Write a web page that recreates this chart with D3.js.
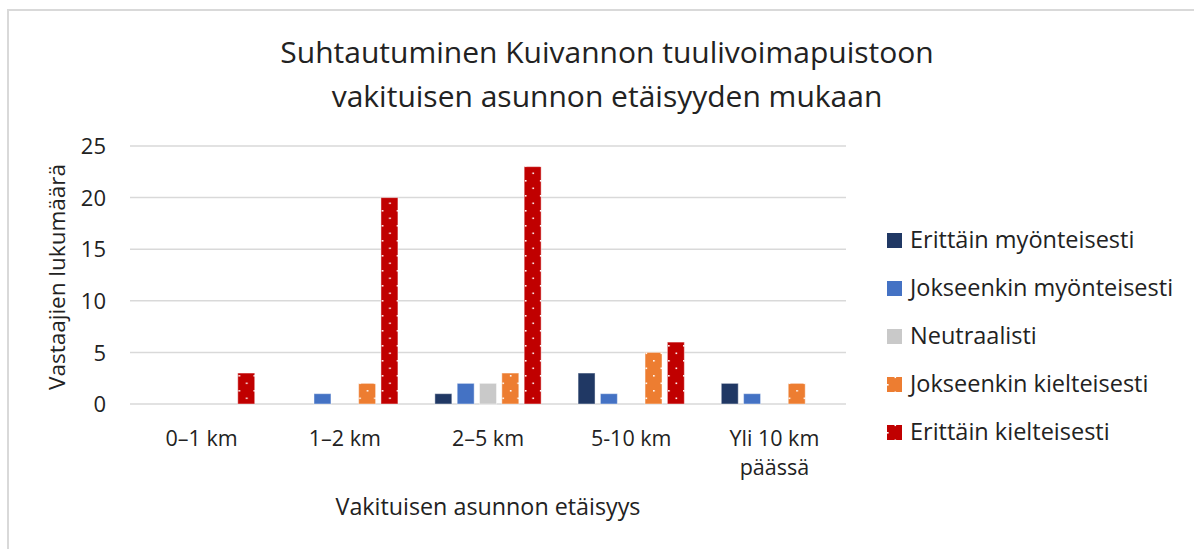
<!DOCTYPE html>
<html lang="fi">
<head>
<meta charset="UTF-8">
<title>Suhtautuminen Kuivannon tuulivoimapuistoon</title>
<script src="https://cdn.jsdelivr.net/npm/d3@7"></script>
<style>
    body { margin: 0; background: #fff; }
    svg text { font-family: "Open Sans", Lato, sans-serif; fill: #222; }
</style>
</head>
<body>
<div id="chart"></div>
<script>
const categories = ["0–1 km", "1–2 km", "2–5 km", "5-10 km", "Yli 10 km päässä"];
const series = ["Erittäin myönteisesti", "Jokseenkin myönteisesti", "Neutraalisti", "Jokseenkin kielteisesti", "Erittäin kielteisesti"];
const values = [
    [0, 0, 0, 0, 3],
    [0, 1, 0, 2, 20],
    [1, 2, 2, 3, 23],
    [3, 1, 0, 5, 6],
    [2, 1, 0, 2, 0]
];
const yTicks = [0, 5, 10, 15, 20, 25];
const colors = ["#203864", "#4472c4", "#c9c9c9", "#ed7d31", "#c00000"];
const dotted = [false, false, false, true, true];

const width = 1194, height = 549;
const plot = { left: 130, right: 846, top: 146, bottom: 404 };

const svg = d3.select("#chart").append("svg")
    .attr("width", width)
    .attr("height", height);

// patterns with white dots for the negative series
const defs = svg.append("defs");
series.forEach((s, i) => {
    if (!dotted[i]) return;
    const p = defs.append("pattern")
        .attr("id", "pat" + i)
        .attr("patternUnits", "userSpaceOnUse")
        .attr("width", 15).attr("height", 15);
    p.append("rect").attr("width", 15).attr("height", 15).attr("fill", colors[i]);
    p.append("rect").attr("x", 0).attr("y", 0).attr("width", 1.6).attr("height", 1.6).attr("fill", "#fff");
    p.append("rect").attr("x", 7.5).attr("y", 7.5).attr("width", 1.6).attr("height", 1.6).attr("fill", "#fff");
});
const fillOf = i => dotted[i] ? `url(#pat${i})` : colors[i];

// outer frame (only top and left visible)
svg.append("rect")
    .attr("x", 8).attr("y", 10)
    .attr("width", width).attr("height", height)
    .attr("fill", "none")
    .attr("stroke", "#d9d9d9")
    .attr("stroke-width", 2);

const x0 = d3.scaleBand()
    .domain(categories)
    .range([plot.left, plot.right])
    .paddingInner(0.258)
    .paddingOuter(0.129);
const x1 = d3.scaleBand()
    .domain(series)
    .range([0, x0.bandwidth()])
    .paddingInner(0.24);
const y = d3.scaleLinear()
    .domain([0, 25])
    .range([plot.bottom, plot.top]);

// gridlines
svg.append("g")
    .selectAll("line")
    .data(yTicks)
    .join("line")
    .attr("x1", plot.left).attr("x2", plot.right)
    .attr("y1", d => y(d)).attr("y2", d => y(d))
    .attr("stroke", "#d9d9d9")
    .attr("stroke-width", 1.5);

// y axis labels
const yAxis = svg.append("g")
    .attr("transform", `translate(${plot.left - 24},0)`)
    .call(d3.axisLeft(y).tickValues(yTicks).tickSize(0).tickPadding(0));
yAxis.select(".domain").remove();
yAxis.selectAll("text")
    .attr("font-size", 22)
    .attr("dy", "0.35em")
    .attr("fill", "#222");

// bars
const groups = svg.append("g")
    .selectAll("g")
    .data(values)
    .join("g")
    .attr("transform", (d, i) => `translate(${x0(categories[i])},0)`);
groups.selectAll("rect")
    .data(d => d.map((v, i) => ({ v, i })))
    .join("rect")
    .filter(d => d.v > 0)
    .attr("x", d => x1(series[d.i]))
    .attr("y", d => y(d.v))
    .attr("width", x1.bandwidth())
    .attr("height", d => y(0) - y(d.v))
    .attr("fill", d => fillOf(d.i))
    .attr("stroke", "rgba(255,255,255,0.45)")
    .attr("stroke-width", 1);

// x labels
const xl = svg.append("g")
    .selectAll("text")
    .data(categories)
    .join("text")
    .attr("x", d => x0(d) + x0.bandwidth() / 2)
    .attr("y", 446)
    .attr("text-anchor", "middle")
    .attr("font-size", 21.5);
xl.each(function (d) {
    const t = d3.select(this);
    if (d.startsWith("Yli")) {
        t.append("tspan").attr("x", t.attr("x")).text("Yli 10 km");
        t.append("tspan").attr("x", t.attr("x")).attr("dy", 29).text("päässä");
    } else {
        t.text(d);
    }
});

// axis titles
svg.append("text")
    .attr("x", 488).attr("y", 515)
    .attr("text-anchor", "middle")
    .attr("font-size", 23.3)
    .text("Vakituisen asunnon etäisyys");
svg.append("text")
    .attr("transform", "translate(65,277) rotate(-90)")
    .attr("text-anchor", "middle")
    .attr("font-size", 22.5)
    .text("Vastaajien lukumäärä");

// title
const title = svg.append("text")
    .attr("text-anchor", "middle")
    .attr("font-size", 30);
title.append("tspan").attr("x", 607).attr("y", 63).text("Suhtautuminen Kuivannon tuulivoimapuistoon");
title.append("tspan").attr("x", 607).attr("y", 107).text("vakituisen asunnon etäisyyden mukaan");

// legend
const legend = svg.append("g")
    .selectAll("g")
    .data(series)
    .join("g")
    .attr("transform", (d, i) => `translate(887,${240 + i * 48})`);
legend.append("rect")
    .attr("x", 0).attr("y", -7)
    .attr("width", 15).attr("height", 15)
    .attr("fill", (d, i) => fillOf(i));
legend.append("text")
    .attr("x", 23).attr("y", 0)
    .attr("dy", "0.35em")
    .attr("font-size", 23.5)
    .text(d => d);
</script>
</body>
</html>
